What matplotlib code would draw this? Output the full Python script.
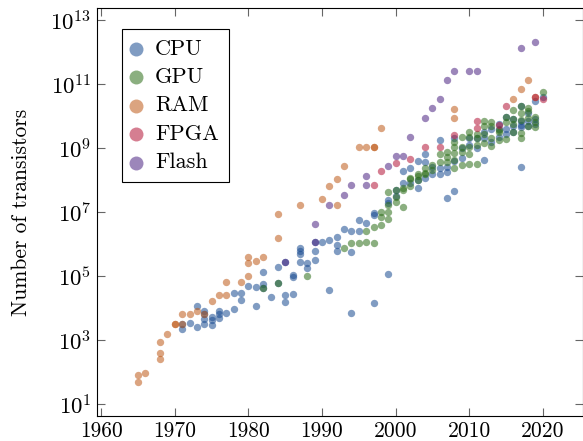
import numpy as np
import matplotlib
matplotlib.use("Agg")
import matplotlib.pyplot as plt
from matplotlib.ticker import FixedLocator, FuncFormatter, NullLocator

# exponents (log10 of transistor count), keyed by year
cpu = {
    1971: [3.34, 3.49], 1972: [3.54], 1973: [4.05, 3.40],
    1974: [3.92, 3.80, 3.65, 3.49], 1975: [3.73, 3.62, 3.47],
    1976: [3.90, 3.81, 3.68], 1977: [3.84], 1978: [4.46, 3.96],
    1979: [4.46, 4.25], 1980: [4.69], 1981: [4.67, 4.06],
    1982: [5.14, 4.75, 4.63], 1983: [4.35], 1984: [5.27, 4.79],
    1985: [5.45, 4.41, 4.20], 1986: [5.03, 4.96, 4.43],
    1987: [5.88, 5.79, 5.69, 5.45], 1988: [5.40, 5.24],
    1989: [6.05, 5.78, 5.49], 1990: [6.07], 1991: [6.13, 4.55],
    1992: [6.23, 5.97, 5.78], 1993: [6.46], 1994: [6.41, 5.76, 3.84],
    1995: [6.41, 6.75], 1996: [6.65], 1997: [6.98, 6.91, 4.17],
    1999: [7.38, 7.27, 5.05], 2000: [7.69, 7.50], 2001: [7.90, 8.28],
    2002: [8.36, 7.90], 2003: [8.60, 7.74, 8.00], 2004: [8.80, 8.57, 8.05],
    2005: [8.20, 8.40], 2006: [9.25, 8.36, 8.20], 2007: [8.42, 8.26, 7.43],
    2008: [9.30, 8.60, 7.67], 2009: [8.70, 9.00], 2010: [9.10, 9.30],
    2011: [9.00, 9.30], 2012: [8.63, 9.30, 9.50], 2013: [9.20, 9.60],
    2014: [9.35, 9.60, 9.75], 2015: [9.45, 9.60, 9.96], 2016: [9.50, 9.70, 9.90],
    2017: [8.41, 9.67, 9.72, 9.85, 10.30], 2018: [9.70, 9.85, 10.10],
    2019: [10.48, 9.75, 9.90], 2020: [10.60],
}
gpu = {
    1982: [4.63], 1984: [4.79], 1988: [4.99], 1993: [5.88], 1994: [6.02],
    1995: [6.02], 1996: [6.07, 6.41], 1997: [6.02, 6.54],
    1998: [7.01, 6.85, 6.59], 1999: [7.01, 6.77, 7.64, 7.22],
    2000: [7.69, 7.48, 7.32], 2001: [7.74, 7.17, 7.70],
    2002: [8.02, 8.05, 7.80], 2003: [8.13, 8.20, 8.00], 2004: [8.21, 8.36, 8.20],
    2005: [8.47, 8.30], 2006: [8.81, 8.57], 2007: [8.89, 8.73, 8.57],
    2008: [9.20, 9.04, 8.83, 8.63, 8.36], 2009: [9.34, 9.04, 8.89, 8.47],
    2010: [9.51, 9.35, 9.04, 8.81, 8.49], 2011: [9.45, 9.30, 9.10, 8.50],
    2012: [9.85, 9.70, 9.45, 9.15], 2013: [9.80, 9.70, 9.30, 9.05],
    2014: [9.50, 9.55, 9.24], 2015: [9.98, 9.82, 9.27],
    2016: [10.19, 9.92, 9.75, 9.50], 2017: [10.30, 10.10, 9.87, 9.46, 9.30],
    2018: [10.24, 10.15, 9.95, 9.70], 2019: [9.98, 9.82, 9.67], 2020: [10.74],
}
ram = {
    1965: [1.92, 1.69], 1966: [1.98], 1968: [2.95, 2.60, 2.40], 1969: [3.20],
    1970: [3.50, 3.50], 1971: [3.80, 3.49], 1972: [3.80], 1973: [3.92],
    1974: [3.80], 1975: [4.23], 1976: [4.41], 1977: [4.41, 4.82], 1979: [4.82],
    1980: [4.99, 5.40, 5.58], 1981: [5.47], 1982: [5.58], 1984: [6.20, 6.93],
    1987: [7.22], 1990: [7.41], 1991: [7.82], 1992: [7.22, 8.02], 1993: [8.43],
    1995: [9.03], 1996: [9.03], 1997: [9.03, 9.03], 1998: [9.63],
    2008: [10.23, 9.93], 2016: [10.53], 2017: [10.83], 2018: [11.13], 2019: [10.60],
}
fpga = {
    1997: [7.84], 1998: [8.29], 2000: [8.54], 2002: [8.65], 2004: [9.02],
    2006: [9.04], 2008: [9.41], 2011: [9.85, 9.62], 2014: [9.72],
    2015: [10.30], 2019: [10.60], 2020: [10.54],
}
flash = {
    1985: [5.45], 1989: [6.63, 6.05], 1991: [7.22], 1993: [7.53], 1994: [7.83],
    1996: [8.13, 7.83], 1999: [8.44], 2000: [8.74], 2001: [8.74], 2002: [9.34],
    2004: [9.94], 2005: [10.24], 2006: [10.54], 2007: [11.12], 2008: [11.41],
    2010: [11.41], 2011: [11.41], 2017: [12.13], 2019: [12.31],
}

names = ["CPU", "GPU", "RAM", "FPGA", "Flash"]
colors = ["#194b91", "#2d6e19", "#be5a19", "#b41437", "#4b2382"]

plt.rcParams["font.family"] = "serif"
plt.rcParams["font.serif"] = ["cmr10"]
plt.rcParams["mathtext.fontset"] = "cm"
plt.rcParams["axes.unicode_minus"] = False

fig = plt.figure(figsize=(5.83, 4.41), dpi=100)
ax = fig.add_axes([97 / 583, 25 / 441, 485.5 / 583, 408 / 441])

for name, data, color in zip(names, [cpu, gpu, ram, fpga, flash], colors):
    xs = []
    ys = []
    for year, exps in data.items():
        for e in exps:
            xs.append(year)
            ys.append(10 ** e)
    ax.scatter(xs, ys, s=28, color=color, alpha=0.55, linewidths=0, label=name)

ax.set_yscale("log")
ax.set_xlim(1959.42, 2025.4)
ax.set_ylim(10 ** 0.625, 10 ** 13.375)
ax.set_xticks(range(1960, 2021, 10))
ax.yaxis.set_major_locator(FixedLocator([10.0 ** k for k in range(1, 14, 2)]))
ax.yaxis.set_major_formatter(FuncFormatter(lambda v, p: r"$10^{%d}$" % round(np.log10(v))))
ax.yaxis.set_minor_locator(NullLocator())
ax.tick_params(direction="in", top=True, right=True, length=6, width=0.8,
               color="0.4", labelsize=15.5, pad=4)
ax.tick_params(axis="y", labelsize=16.5)
for sp in ax.spines.values():
    sp.set_linewidth(0.8)
ax.set_ylabel("Number of transistors", fontsize=15.5, labelpad=14)

leg = ax.legend(loc="upper left", bbox_to_anchor=(25 / 485, 1 - 21 / 408),
                borderaxespad=0, fontsize=16, markerscale=1.9, scatterpoints=1,
                fancybox=False, edgecolor="black", framealpha=1,
                borderpad=0.45, handlelength=0.36, handletextpad=0.68, labelspacing=0.4)
leg.get_frame().set_linewidth(0.8)

fig.savefig("out.png", dpi=100)
